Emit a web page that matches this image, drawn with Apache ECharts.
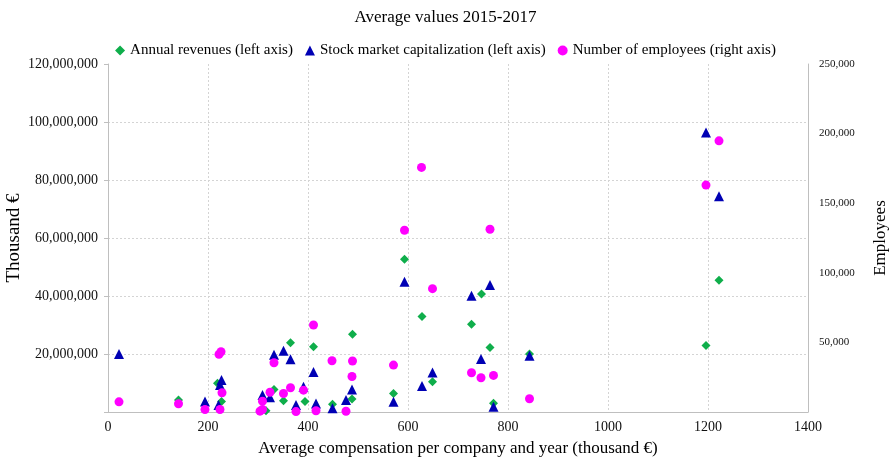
<!DOCTYPE html>
<html>
<head>
<meta charset="utf-8">
<script src="https://cdn.jsdelivr.net/npm/echarts@6/dist/echarts.min.js"></script>
<style>
  html, body { margin: 0; padding: 0; background: #fff; }
  #chart { width: 891px; height: 461px; }
</style>
</head>
<body>
<div id="chart"></div>
<script>
// Annual revenues (left axis, thousand €)
const revX = [141, 219, 227, 316, 332, 351, 365, 394, 411, 449, 488, 489, 571, 593, 628, 649, 727, 747, 764, 771, 843, 1196, 1222];
const revY = [4.1, 9.9, 3.6, 0.4, 7.8, 3.9, 23.9, 3.6, 22.5, 2.7, 4.5, 26.8, 6.4, 52.7, 32.9, 10.4, 30.3, 40.7, 22.2, 3.0, 20.0, 22.9, 45.4]; // millions

// Stock market capitalization (left axis, thousand €)
const capX = [22, 194, 221, 224, 227, 309, 324, 332, 351, 365, 376, 391, 411, 416, 449, 476, 488, 571, 593, 628, 649, 727, 746, 764, 771, 843, 1196, 1222];
const capY = [20.0, 3.6, 2.4, 9.3, 11.0, 5.9, 5.1, 19.7, 21.1, 18.2, 2.4, 8.7, 13.8, 2.9, 1.3, 4.1, 7.8, 3.5, 44.9, 9.0, 13.6, 40.1, 18.3, 43.8, 1.8, 19.4, 96.4, 74.4]; // millions

// Number of employees (right axis)
const empX = [22, 141, 194, 222, 226, 224, 228, 304, 309, 309, 324, 332, 351, 365, 376, 391, 411, 416, 448, 476, 488, 489, 571, 593, 627, 649, 727, 746, 764, 771, 843, 1196, 1222];
const empY = [7.3, 5.9, 1.8, 41.4, 43.3, 1.8, 13.8, 0.6, 1.8, 7.8, 14.2, 35.4, 13.3, 17.4, 0.3, 15.7, 62.5, 0.9, 36.8, 0.5, 25.5, 36.6, 33.7, 130.6, 175.7, 88.6, 28.2, 24.6, 131.3, 26.3, 9.5, 163, 194.8]; // thousands

const seriesNames = ['Annual revenues (left axis)', 'Stock market capitalization (left axis)', 'Number of employees (right axis)'];

const pairs = (xs, ys, k) => xs.map((x, i) => [x, Math.round(ys[i] * k)]);
const fmt = v => (v === 0 ? '' : v.toLocaleString('en-US'));
const serif = 'Liberation Serif';
const dotted = { color: '#d4d4d4', type: [2, 2] };

const chart = echarts.init(document.getElementById('chart'));

chart.setOption({
  animation: false,
  textStyle: { fontFamily: serif },
  title: {
    text: 'Average values 2015-2017',
    left: 'center',
    top: 4,
    textStyle: { fontFamily: serif, fontSize: 17, fontWeight: 'normal', color: '#000' }
  },
  legend: {
    top: 38,
    left: 'center',
    itemWidth: 10,
    itemHeight: 10,
    itemGap: 12,
    textStyle: { fontFamily: serif, fontSize: 15, color: '#000' },
    data: [
      { name: seriesNames[0], icon: 'diamond' },
      { name: seriesNames[1], icon: 'triangle' },
      { name: seriesNames[2], icon: 'circle' }
    ]
  },
  grid: { left: 108, right: 83, top: 64, bottom: 49, containLabel: false, outerBoundsMode: 'none' },
  xAxis: {
    type: 'value',
    min: 0,
    max: 1400,
    interval: 200,
    name: 'Average compensation per company and year (thousand €)',
    nameLocation: 'middle',
    nameGap: 28,
    nameMoveOverlap: false,
    nameTextStyle: { fontFamily: serif, fontSize: 17, color: '#000' },
    axisLine: { lineStyle: { color: '#bfbfbf' } },
    axisTick: { show: false },
    axisLabel: { fontFamily: serif, fontSize: 14, color: '#111', margin: 8, formatter: v => String(v) },
    splitLine: { show: true, showMinLine: false, showMaxLine: false, lineStyle: dotted }
  },
  yAxis: [
    {
      type: 'value',
      min: 0,
      max: 120000000,
      interval: 20000000,
      name: 'Thousand €',
      nameLocation: 'middle',
      nameGap: 84,
      nameMoveOverlap: false,
      nameTextStyle: { fontFamily: serif, fontSize: 19, color: '#000' },
      axisLine: { show: true, lineStyle: { color: '#bfbfbf' } },
      axisTick: { show: true, length: 4, lineStyle: { color: '#bfbfbf' } },
      axisLabel: { fontFamily: serif, fontSize: 14, color: '#111', margin: 10, formatter: fmt },
      splitLine: { show: true, showMinLine: false, showMaxLine: false, lineStyle: dotted }
    },
    {
      type: 'value',
      min: 0,
      max: 250000,
      interval: 50000,
      name: 'Employees',
      nameLocation: 'middle',
      nameGap: 64,
      nameMoveOverlap: false,
      nameTextStyle: { fontFamily: serif, fontSize: 17, color: '#000' },
      axisLine: { show: true, lineStyle: { color: '#bfbfbf' } },
      axisTick: { show: false },
      axisLabel: { fontFamily: serif, fontSize: 11, color: '#111', margin: 11, formatter: fmt },
      splitLine: { show: false }
    }
  ],
  series: [
    {
      name: seriesNames[0],
      type: 'scatter',
      yAxisIndex: 0,
      symbol: 'diamond',
      symbolSize: 9,
      itemStyle: { color: '#0fae4b', opacity: 1 },
      data: pairs(revX, revY, 1e6),
      z: 3
    },
    {
      name: seriesNames[1],
      type: 'scatter',
      yAxisIndex: 0,
      symbol: 'triangle',
      symbolSize: 10,
      itemStyle: { color: '#0000b4', opacity: 1 },
      data: pairs(capX, capY, 1e6),
      z: 4
    },
    {
      name: seriesNames[2],
      type: 'scatter',
      yAxisIndex: 1,
      symbol: 'circle',
      symbolSize: 9,
      itemStyle: { color: '#ff00ff', opacity: 1 },
      data: pairs(empX, empY, 1e3),
      z: 5
    }
  ]
});

window.addEventListener('resize', () => chart.resize());
</script>
</body>
</html>
